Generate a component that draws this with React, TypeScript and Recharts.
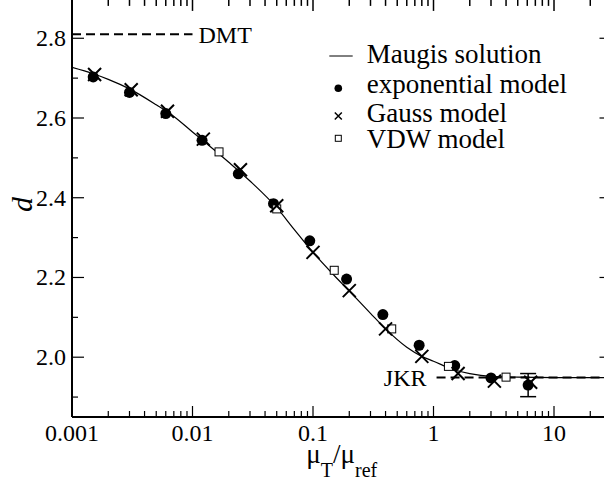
import {
  ComposedChart,
  ErrorBar,
  Legend,
  Line,
  ReferenceDot,
  Scatter,
  XAxis,
  YAxis
} from "recharts";

const FONT = '"Liberation Serif", "Times New Roman", serif';

// Maugis solution
const maugisCurve = [
  { x: 0.001, d: 2.727 },
  { x: 0.0015, d: 2.711 },
  { x: 0.002, d: 2.697 },
  { x: 0.003, d: 2.673 },
  { x: 0.005, d: 2.633 },
  { x: 0.007, d: 2.604 },
  { x: 0.01, d: 2.565 },
  { x: 0.015, d: 2.521 },
  { x: 0.02, d: 2.489 },
  { x: 0.03, d: 2.442 },
  { x: 0.05, d: 2.375 },
  { x: 0.07, d: 2.32 },
  { x: 0.1, d: 2.263 },
  { x: 0.15, d: 2.205 },
  { x: 0.2, d: 2.166 },
  { x: 0.3, d: 2.11 },
  { x: 0.4, d: 2.071 },
  { x: 0.6, d: 2.025 },
  { x: 0.8, d: 2.002 },
  { x: 1.0, d: 1.99 },
  { x: 1.5, d: 1.968 },
  { x: 2, d: 1.959 },
  { x: 3, d: 1.952 },
  { x: 5, d: 1.95 },
  { x: 10, d: 1.949 },
  { x: 30, d: 1.949 }
];

const expModel = [
  { x: 0.0015, d: 2.703 },
  { x: 0.003, d: 2.664 },
  { x: 0.006, d: 2.611 },
  { x: 0.012, d: 2.544 },
  { x: 0.024, d: 2.46 },
  { x: 0.047, d: 2.385 },
  { x: 0.094, d: 2.292 },
  { x: 0.19, d: 2.196 },
  { x: 0.38, d: 2.107 },
  { x: 0.76, d: 2.03 },
  { x: 1.5, d: 1.979 },
  { x: 3.0, d: 1.948 },
  { x: 6.1, d: 1.93, err: 0.029 }
];

const gaussModel = [
  { x: 0.00154, d: 2.709 },
  { x: 0.0031, d: 2.671 },
  { x: 0.0062, d: 2.617 },
  { x: 0.0123, d: 2.547 },
  { x: 0.025, d: 2.47 },
  { x: 0.05, d: 2.38 },
  { x: 0.1, d: 2.263 },
  { x: 0.2, d: 2.167 },
  { x: 0.4, d: 2.071 },
  { x: 0.8, d: 2.002 },
  { x: 1.6, d: 1.959 },
  { x: 3.2, d: 1.94 },
  { x: 6.4, d: 1.937 }
];

const vdwModel = [
  { x: 0.0166, d: 2.515 },
  { x: 0.05, d: 2.372 },
  { x: 0.15, d: 2.218 },
  { x: 0.45, d: 2.071 },
  { x: 1.33, d: 1.977 },
  { x: 4.0, d: 1.95 }
];

const dmtLine = [
  { x: 0.001, d: 2.81 },
  { x: 0.01, d: 2.81 }
];

const jkrLine = [
  { x: 1.06, d: 1.949 },
  { x: 30, d: 1.949 }
];

const xMajorTicks = [0.001, 0.01, 0.1, 1, 10];
const xMinorTicks = [
  0.002, 0.003, 0.004, 0.005, 0.006, 0.007, 0.008, 0.009,
  0.02, 0.03, 0.04, 0.05, 0.06, 0.07, 0.08, 0.09,
  0.2, 0.3, 0.4, 0.5, 0.6, 0.7, 0.8, 0.9,
  2, 3, 4, 5, 6, 7, 8, 9,
  20
];
const yMajorTicks = [2.0, 2.2, 2.4, 2.6, 2.8];
const yMinorTicks = [1.9, 2.1, 2.3, 2.5, 2.7, 2.9];

const legendItems = ["Maugis solution", "exponential model", "Gauss model", "VDW model"];

const xTicks = [...xMajorTicks, ...xMinorTicks].sort((a, b) => a - b);
const yTicks = [...yMajorTicks, ...yMinorTicks].sort((a, b) => a - b);

const X_DOMAIN = [0.001, 30];
const Y_DOMAIN = [1.85, 2.9];

const CHART_W = 640;
const CHART_H = 497;
const MARGIN = { top: 10.4, right: 27.5, bottom: 0, left: 0 };
const X_AXIS_H = 68;
// height of the plot frame, used to mirror the x ticks on the top edge
const PLOT_H = CHART_H - MARGIN.top - MARGIN.bottom - X_AXIS_H;

function BottomTick({ x, y, payload }: any) {
  const major = xMajorTicks.includes(payload.value);
  const top = y - PLOT_H;
  return (
    <g>
      <line x1={x} x2={x} y1={y} y2={y - (major ? 11 : 6)} stroke="#000" strokeWidth={1.2} />
      <line x1={x} x2={x} y1={top} y2={top + (major ? 12.5 : 7.5)} stroke="#000" strokeWidth={1.5} />
      {major && (
        <text x={x} y={y + 24} textAnchor="middle" fontSize={24} fontFamily={FONT} fill="#000">
          {String(payload.value)}
        </text>
      )}
    </g>
  );
}

function LeftTick({ x, y, payload }: any) {
  const major = yMajorTicks.includes(payload.value);
  return (
    <g>
      <line x1={x} x2={x + (major ? 12 : 6)} y1={y} y2={y} stroke="#000" strokeWidth={1.2} />
      {major && (
        <text x={x - 6} y={y + 8} textAnchor="end" fontSize={24} fontFamily={FONT} fill="#000">
          {payload.value.toFixed(1)}
        </text>
      )}
    </g>
  );
}

function RightTick({ x, y, payload }: any) {
  const major = yMajorTicks.includes(payload.value);
  return <line x1={x} x2={x - (major ? 12 : 6)} y1={y} y2={y} stroke="#000" strokeWidth={1.2} />;
}

function Dot(props: any) {
  return <circle cx={props.cx} cy={props.cy} r={5.5} fill="#000" />;
}

function Cross(props: any) {
  const s = 6.5;
  return (
    <path
      d={`M${props.cx - s},${props.cy - s}L${props.cx + s},${props.cy + s}M${props.cx - s},${props.cy + s}L${props.cx + s},${props.cy - s}`}
      stroke="#000"
      strokeWidth={2}
    />
  );
}

function Square(props: any) {
  return (
    <rect x={props.cx - 4} y={props.cy - 4} width={8} height={8} fill="#fff" stroke="#000" strokeWidth={1} />
  );
}

function LegendBox() {
  const rows = [33.3, 63.3, 91.7, 118.3];
  return (
    <svg width={280} height={130} style={{ display: "block" }}>
      <line x1={9.3} x2={32.7} y1={26} y2={26} stroke="#000" strokeWidth={1} />
      <circle cx={18.3} cy={58.3} r={3.8} fill="#000" />
      <path d="M14.8,82.5L21.8,89.5M14.8,89.5L21.8,82.5" stroke="#000" strokeWidth={1.5} />
      <rect x={15.3} y={105.3} width={6} height={6} fill="#fff" stroke="#000" strokeWidth={1} />
      {legendItems.map((name, i) => (
        <text key={name} x={46.7} y={rows[i]} fontSize={27} fontFamily={FONT} fill="#000">
          {name}
        </text>
      ))}
    </svg>
  );
}

function XTitle({ viewBox }: any) {
  const cx = viewBox.x + viewBox.width / 2;
  const base = viewBox.y + 46;
  return (
    <text x={cx} y={base} textAnchor="middle" fontSize={27} fontFamily={FONT} fill="#000">
      <tspan>μ</tspan>
      <tspan fontSize={20} dy={14}>T</tspan>
      <tspan dy={-14}>/μ</tspan>
      <tspan fontSize={20} dy={14}>ref</tspan>
    </text>
  );
}

function YTitle({ viewBox }: any) {
  const y = viewBox.y + 206;
  return (
    <text
      x={32}
      y={y}
      transform={`rotate(-90, 32, ${y})`}
      textAnchor="middle"
      fontSize={30}
      fontStyle="italic"
      fontFamily={FONT}
      fill="#000"
    >
      d
    </text>
  );
}

export default function App() {
  return (
    <div
      style={{
        position: "absolute",
        left: 0,
        top: 0,
        width: 604,
        height: 485,
        overflow: "hidden",
        background: "#fff",
        fontFamily: FONT
      }}
    >
      <div style={{ position: "absolute", left: 0, top: -12 }}>
        <ComposedChart width={CHART_W} height={CHART_H} margin={MARGIN}>
          <XAxis
            dataKey="x"
            type="number"
            scale="log"
            domain={X_DOMAIN}
            allowDataOverflow
            ticks={xTicks}
            interval={0}
            tickSize={0}
            tickMargin={0}
            tickLine={false}
            tick={BottomTick}
            height={X_AXIS_H}
            axisLine={{ stroke: "#000", strokeWidth: 2 }}
            label={<XTitle />}
          />
          <YAxis
            yAxisId={0}
            type="number"
            domain={Y_DOMAIN}
            allowDataOverflow
            ticks={yTicks}
            interval={0}
            tickSize={0}
            tickMargin={0}
            tickLine={false}
            tick={LeftTick}
            width={72}
            axisLine={{ stroke: "#000", strokeWidth: 2 }}
            label={<YTitle />}
          />
          <YAxis
            yAxisId="right"
            orientation="right"
            type="number"
            domain={Y_DOMAIN}
            allowDataOverflow
            ticks={yTicks}
            interval={0}
            tickSize={0}
            tickMargin={0}
            tickLine={false}
            tick={RightTick}
            width={1}
            axisLine={{ stroke: "#000", strokeWidth: 2 }}
          />
          {/* invisible copy of the DMT line so the mirror axis on the right gets drawn */}
          <Line
            data={dmtLine}
            dataKey="d"
            yAxisId="right"
            stroke="none"
            dot={false}
            legendType="none"
            isAnimationActive={false}
          />
          <Line
            data={maugisCurve}
            dataKey="d"
            type="monotone"
            stroke="#000"
            strokeWidth={1.2}
            dot={false}
            isAnimationActive={false}
          />
          <Line
            data={dmtLine}
            dataKey="d"
            stroke="#000"
            strokeWidth={2}
            strokeDasharray="9 5"
            dot={false}
            isAnimationActive={false}
          />
          <Line
            data={jkrLine}
            dataKey="d"
            stroke="#000"
            strokeWidth={2}
            strokeDasharray="9 5"
            dot={false}
            isAnimationActive={false}
          />
          <Scatter data={expModel} dataKey="d" shape={Dot} isAnimationActive={false}>
            <ErrorBar dataKey="err" direction="y" width={8} stroke="#000" strokeWidth={1.5} />
          </Scatter>
          <Scatter data={vdwModel} dataKey="d" shape={Square} isAnimationActive={false} />
          <Scatter data={gaussModel} dataKey="d" shape={Cross} isAnimationActive={false} />
          <ReferenceDot
            x={0.01}
            y={2.81}
            r={0}
            fill="none"
            stroke="none"
            label={{ value: "DMT", position: "right", offset: 6, fontSize: 24, fontFamily: FONT, fill: "#000" }}
          />
          <ReferenceDot
            x={1.06}
            y={1.949}
            r={0}
            fill="none"
            stroke="none"
            label={{ value: "JKR", position: "left", offset: 10, fontSize: 24, fontFamily: FONT, fill: "#000" }}
          />
          <Legend
            layout="vertical"
            align="center"
            verticalAlign="middle"
            wrapperStyle={{ left: 320, top: 42, width: 280, height: 130 }}
            content={() => <LegendBox />}
          />
        </ComposedChart>
      </div>
    </div>
  );
}
